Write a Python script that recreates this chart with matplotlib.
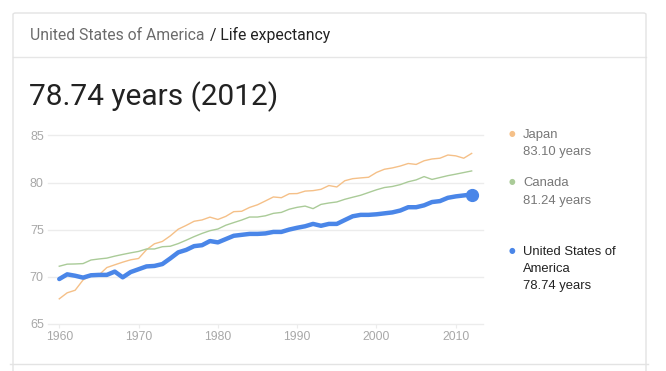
import matplotlib
matplotlib.use("Agg")
import matplotlib.pyplot as plt
from matplotlib.lines import Line2D
from matplotlib.patches import FancyBboxPatch

years = list(range(1960, 2013))
usa = [69.77, 70.27, 70.12, 69.92, 70.17, 70.21, 70.21, 70.56, 69.95, 70.51,
       70.81, 71.11, 71.16, 71.36, 71.96, 72.60, 72.86, 73.26, 73.36, 73.80,
       73.66, 74.01, 74.36, 74.46, 74.56, 74.56, 74.61, 74.77, 74.77, 75.02,
       75.21, 75.37, 75.62, 75.42, 75.62, 75.62, 76.03, 76.43, 76.58, 76.58,
       76.64, 76.74, 76.84, 77.04, 77.39, 77.39, 77.59, 77.94, 78.04, 78.39,
       78.54, 78.64, 78.74]
japan = [67.67, 68.31, 68.58, 69.67, 70.13, 70.20, 70.99, 71.28, 71.56, 71.81,
         71.95, 72.88, 73.51, 73.76, 74.35, 75.06, 75.46, 75.90, 76.04, 76.34,
         76.09, 76.42, 76.92, 76.96, 77.37, 77.65, 78.06, 78.48, 78.40, 78.82,
         78.84, 79.10, 79.15, 79.29, 79.69, 79.54, 80.20, 80.42, 80.50, 80.57,
         81.08, 81.42, 81.56, 81.76, 82.03, 81.93, 82.32, 82.51, 82.59, 82.93,
         82.84, 82.59, 83.10]
canada = [71.13, 71.35, 71.37, 71.41, 71.79, 71.90, 71.99, 72.20, 72.38, 72.55,
          72.70, 72.96, 72.96, 73.20, 73.25, 73.53, 73.89, 74.27, 74.61, 74.90,
          75.08, 75.48, 75.76, 76.03, 76.35, 76.35, 76.48, 76.74, 76.84, 77.18,
          77.38, 77.51, 77.24, 77.69, 77.84, 77.95, 78.23, 78.45, 78.66, 78.95,
          79.24, 79.48, 79.59, 79.79, 80.09, 80.29, 80.64, 80.34, 80.54, 80.74,
          80.90, 81.07, 81.24]

x_ticks = [1960, 1970, 1980, 1990, 2000, 2010]
y_ticks = [65, 70, 75, 80, 85]
legend_names = [["Japan"], ["Canada"], ["United States of", "America"]]
legend_values = ["83.10 years", "81.24 years", "78.74 years"]
header_country = "United States of America"
header_indicator = "Life expectancy"
headline = "78.74 years (2012)"

W, H = 666, 371
C_JP = "#f5c088"
C_CA = "#aacb98"
C_US = "#4a86e8"
GRID = "#ececec"
TICK_TXT = "#a8a8a8"

fig = plt.figure(figsize=(W / 100, H / 100), dpi=100)
fig.patch.set_facecolor("white")


def fx(px):
    return px / W


def fy(py):
    return 1 - py / H


# card frame
card = FancyBboxPatch((fx(13), fy(380)), fx(646) - fx(13), fy(13) - fy(380),
                      boxstyle="round,pad=0,rounding_size=0.004",
                      transform=fig.transFigure, facecolor="none",
                      edgecolor="#e3e3e3", linewidth=1.0, zorder=-5)
fig.patches.append(card)
fig.add_artist(Line2D([fx(13), fx(646)], [fy(57), fy(57)], color="#e6e6e6", lw=1.0, zorder=-5))
fig.add_artist(Line2D([fx(10), fx(648)], [fy(364), fy(364)], color="#e3e3e3", lw=1.0, zorder=-5))

# header
t1 = fig.text(fx(30), fy(35), header_country, fontsize=11.3, family="Roboto",
              color="#6b6b6b", va="center", ha="left")
fig.canvas.draw()
bb = t1.get_window_extent()
fig.text(bb.x1 / W + fx(5), fy(35), "/ " + header_indicator, fontsize=11.3,
         family="Roboto", color="#222222", va="center", ha="left")

fig.text(fx(29), fy(97), headline, fontsize=21.5, family="Roboto",
         color="#222222", va="center", ha="left")

# axes
ax = fig.add_axes([fx(48), fy(324), fx(483) - fx(48), fy(135.5) - fy(324)])
ax.set_xlim(1958.58, 2013.43)
ax.set_ylim(65, 85)
ax.patch.set_alpha(0)
for s in ax.spines.values():
    s.set_visible(False)
ax.set_yticks(y_ticks)
ax.set_xticks(x_ticks)
ax.grid(axis="y", color=GRID, lw=1.0)
ax.tick_params(axis="y", length=0, pad=3, labelsize=9, labelcolor=TICK_TXT)
ax.tick_params(axis="x", length=3, color=GRID, pad=2, labelsize=8.8, labelcolor=TICK_TXT)
for lab in ax.get_xticklabels() + ax.get_yticklabels():
    lab.set_family("Liberation Sans")
for g in ax.get_ygridlines():
    g.set_clip_on(False)

ax.plot(years, japan, color=C_JP, lw=1.0)
ax.plot(years, canada, color=C_CA, lw=1.0)
ax.plot(years, usa, color=C_US, lw=3.2, solid_joinstyle="round", solid_capstyle="round")
ax.plot([years[-1]], [usa[-1]], "o", color=C_US, ms=8.5, clip_on=False)

# legend on right
legend_colors = [C_JP, C_CA, C_US]
name_colors = ["#777777", "#777777", "#222222"]
legend_y = [135, 183, 252]
for names, val, c, nc, y0 in zip(legend_names, legend_values, legend_colors, name_colors, legend_y):
    fig.text(fx(512), fy(y0 - 1.5), "\u25cf", color=c, fontsize=5.5, ha="center", va="center",
             family="DejaVu Sans")
    y = y0
    for n in names:
        fig.text(fx(523), fy(y), n, color=nc, fontsize=9.4, family="Liberation Sans",
                 ha="left", va="center")
        y += 16.5
    fig.text(fx(523), fy(y + 1), val, color=nc, fontsize=9.4,
             family="Liberation Sans", ha="left", va="center")

fig.savefig("out.png", dpi=100, facecolor="white")
